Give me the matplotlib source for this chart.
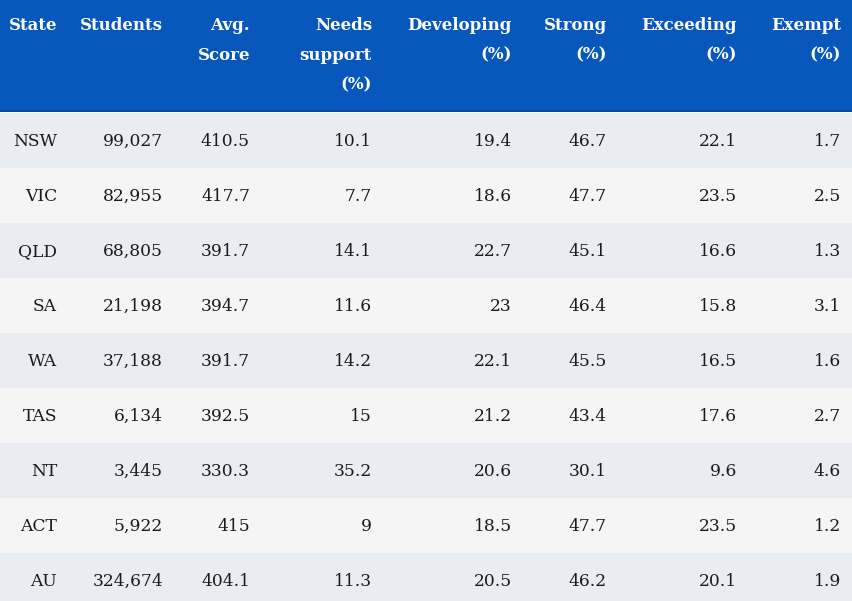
import matplotlib
matplotlib.use("Agg")
import matplotlib.pyplot as plt
from matplotlib.patches import Rectangle

states = ["NSW", "VIC", "QLD", "SA", "WA", "TAS", "NT", "ACT", "AU"]
students = ["99,027", "82,955", "68,805", "21,198", "37,188", "6,134", "3,445", "5,922", "324,674"]
avg_score = ["410.5", "417.7", "391.7", "394.7", "391.7", "392.5", "330.3", "415", "404.1"]
needs_support = ["10.1", "7.7", "14.1", "11.6", "14.2", "15", "35.2", "9", "11.3"]
developing = ["19.4", "18.6", "22.7", "23", "22.1", "21.2", "20.6", "18.5", "20.5"]
strong = ["46.7", "47.7", "45.1", "46.4", "45.5", "43.4", "30.1", "47.7", "46.2"]
exceeding = ["22.1", "23.5", "16.6", "15.8", "16.5", "17.6", "9.6", "23.5", "20.1"]
exempt = ["1.7", "2.5", "1.3", "3.1", "1.6", "2.7", "4.6", "1.2", "1.9"]
headers = [["State"], ["Students"], ["Avg.", "Score"], ["Needs", "support", "(%)"],
           ["Developing", "(%)"], ["Strong", "(%)"], ["Exceeding", "(%)"], ["Exempt", "(%)"]]

columns = [states, students, avg_score, needs_support, developing, strong, exceeding, exempt]
col_right = [57, 163, 250, 372, 512, 607, 737, 841]

W, H = 852, 601
header_h = 113
row_h = 55

fig = plt.figure(figsize=(W / 100, H / 100), dpi=100)
ax = fig.add_axes([0, 0, 1, 1])
ax.set_xlim(0, W)
ax.set_ylim(H, 0)
ax.axis("off")

font = "DejaVu Serif"
fs = 12.3

ax.add_patch(Rectangle((0, 0), W, header_h, facecolor="#0857bd", edgecolor="none"))
ax.add_patch(Rectangle((0, header_h - 3), W, 2, facecolor="#0a4aa0", edgecolor="none"))

for i in range(len(states)):
    y0 = header_h + i * row_h
    color = "#e9edf1" if i % 2 == 0 else "#f5f5f5"
    ax.add_patch(Rectangle((0, y0), W, row_h, facecolor=color, edgecolor="none"))
    for c, col in enumerate(columns):
        ax.text(col_right[c], y0 + row_h / 2 + 1, col[i], ha="right", va="center",
                fontsize=fs, family=font, color="#1a1a1a")
ax.add_patch(Rectangle((0, header_h - 1), W, 1, facecolor="white", edgecolor="none"))

for c, lines in enumerate(headers):
    for k, line in enumerate(lines):
        ax.text(col_right[c], 25 + 30 * k, line, ha="right", va="center",
                fontsize=12.0, family=font, fontweight="bold", color="white")

fig.savefig("out.png", dpi=100)
